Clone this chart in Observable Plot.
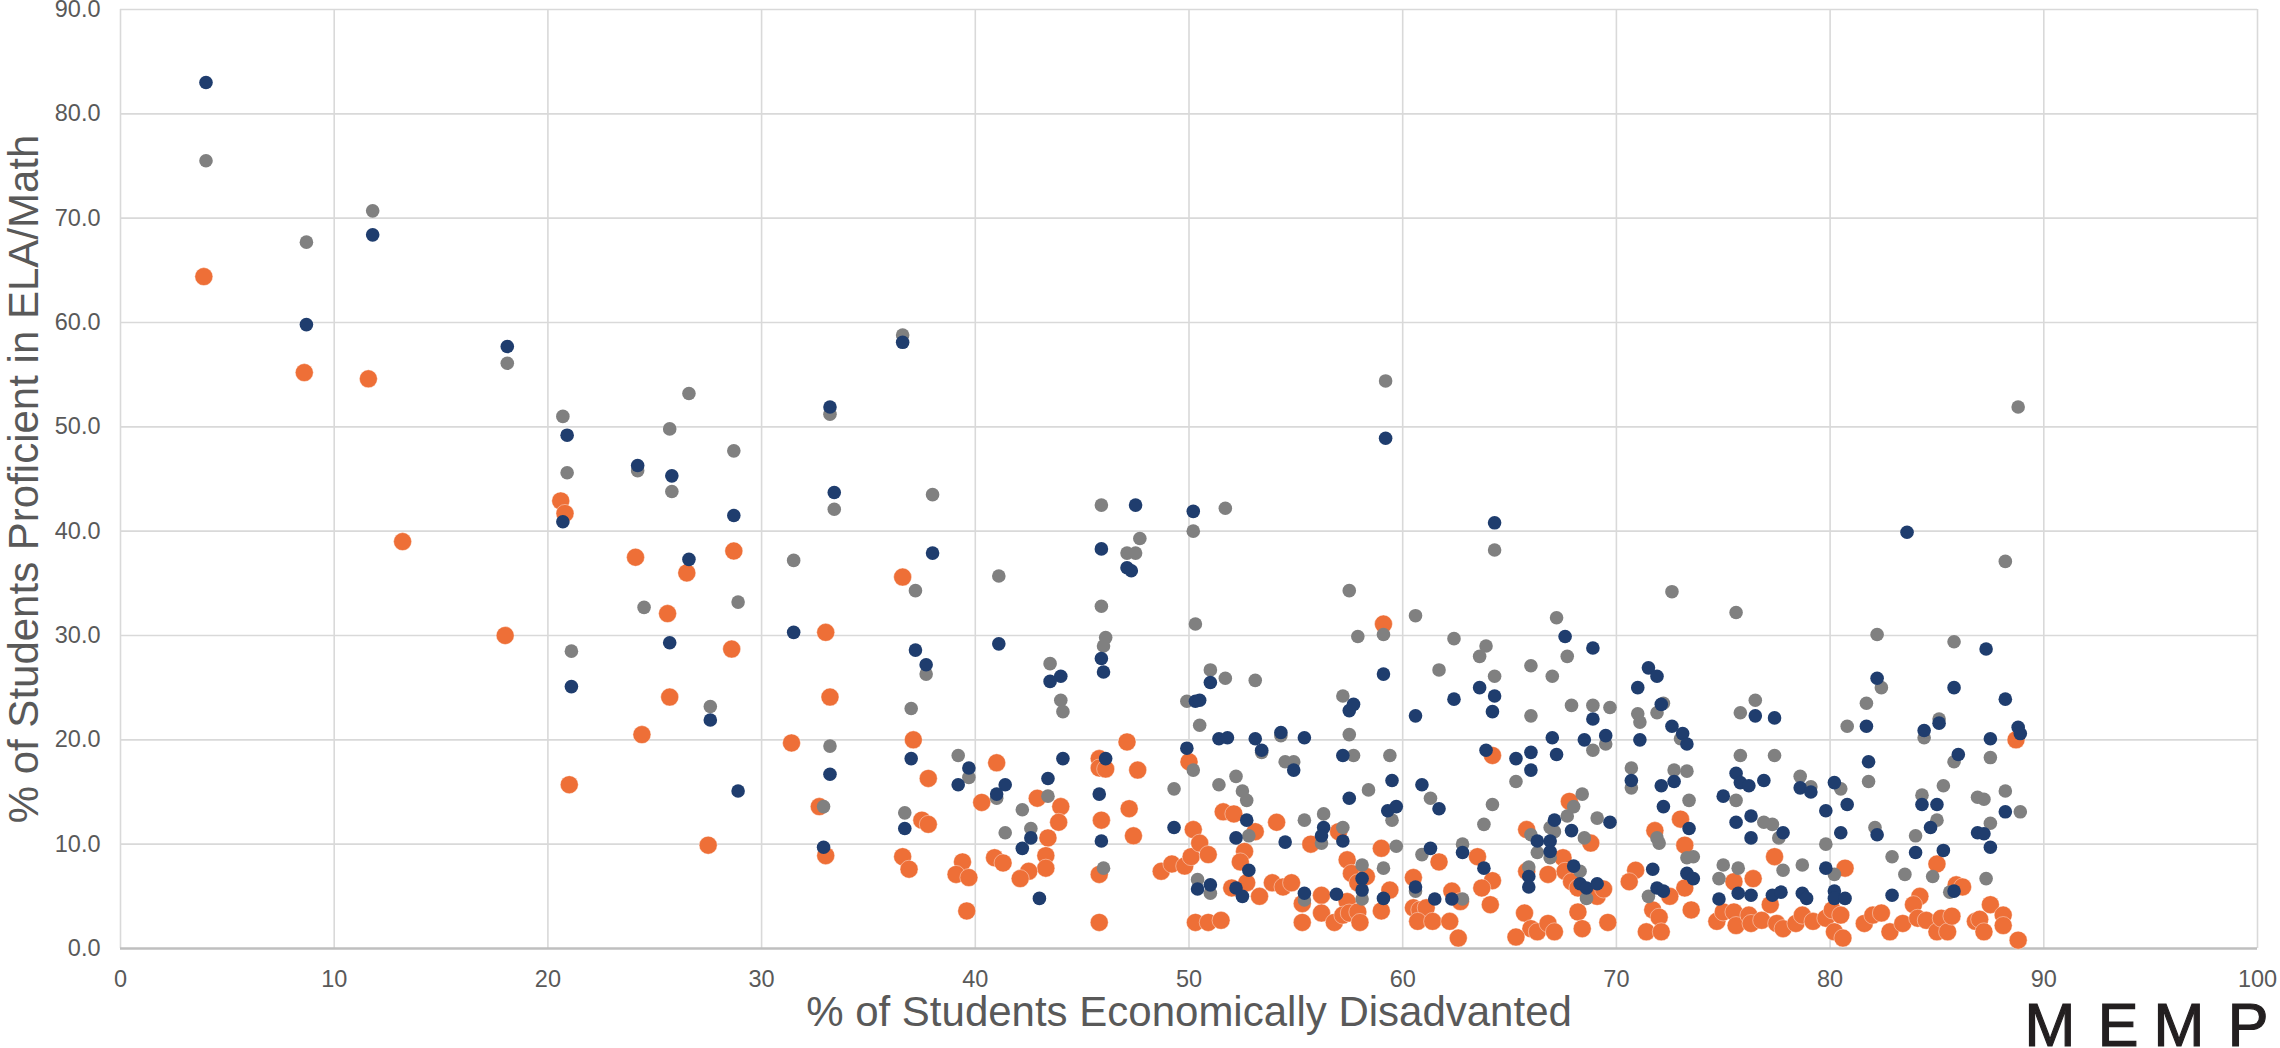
<!DOCTYPE html>
<html>
<head>
<meta charset="utf-8">
<script src="https://cdn.jsdelivr.net/npm/d3@7"></script>
<script src="https://cdn.jsdelivr.net/npm/@observablehq/plot@0.6"></script>
<style>
  html, body { margin: 0; padding: 0; background: #ffffff; }
  #wrap { position: relative; width: 2280px; height: 1048px; overflow: hidden; background: #fff; }
  .logo-letter { position: absolute; top: 1003px; width: 80px; text-align: center;
    font-family: "Liberation Sans", Arial, sans-serif; font-size: 61px; line-height: 44px; height: 44px;
    color: #231f20; -webkit-text-stroke: 1.2px #231f20; }
</style>
</head>
<body>
<div id="wrap"></div>
<script>
// ---- data (x = % economically disadvantaged, y = % proficient) ----
const xTicks = [0, 10, 20, 30, 40, 50, 60, 70, 80, 90, 100];
const yTicks = [0, 10, 20, 30, 40, 50, 60, 70, 80, 90];
const xTitle = "% of Students Economically Disadvanted";
const yTitle = "% of Students Proficient in ELA/Math";

const seriesOrange = [
[3.9,64.4],[8.6,55.2],[11.6,54.6],[13.2,39.0],[18.0,30.0],[20.6,42.9],[20.8,41.7],[24.1,37.5],[26.5,36.0],[25.6,32.1],[28.7,38.1],[28.6,28.7],[33.0,30.3],[25.7,24.1],[33.2,24.1],[24.4,20.5],[31.4,19.7],[37.1,20.0],[37.8,16.3],[21.0,15.7],[32.7,13.6],[37.5,12.3],[37.8,11.9],[27.5,9.9],[33.0,8.9],[36.6,8.8],[36.9,7.6],[39.4,8.3],[39.1,7.1],[39.7,6.8],[39.6,3.6],[36.6,35.6],
[41.0,17.8],[40.3,14.0],[42.9,14.4],[44.0,13.6],[43.9,12.1],[43.4,10.6],[43.3,8.9],[43.3,7.7],[42.5,7.4],[42.1,6.7],[40.9,8.7],[41.3,8.2],[45.8,18.2],[45.8,17.3],[46.1,17.2],[47.1,19.8],[47.6,17.1],[45.9,12.3],[47.2,13.4],[47.4,10.8],[50.0,17.9],[45.8,7.1],[45.8,2.5],[50.2,11.4],[48.7,7.4],[49.2,8.1],[49.8,7.9],[50.1,8.8],[50.3,2.5],
[51.6,13.1],[52.1,12.9],[53.1,11.2],[50.5,10.1],[50.9,9.0],[50.9,2.5],[51.5,2.7],[52.6,9.3],[52.4,8.3],[52.7,6.3],[52.0,5.8],[53.3,5.0],[53.9,6.3],[54.4,5.9],[54.8,6.3],[55.3,4.3],[55.3,2.5],[54.1,12.1],[55.7,10.0],[57.0,11.2],[56.2,5.1],[56.2,3.4],[57.4,4.5],[56.8,2.5],[57.2,3.2],[57.5,3.4],[57.9,3.5],[58.0,2.5],[57.4,8.5],[57.6,7.2],[57.9,6.3],[58.3,6.9],[59.0,9.6],[59.4,5.6],[59.0,3.6],[61.7,8.3],[60.5,6.8],[62.3,5.5],[60.5,3.9],[60.8,3.7],[61.1,3.9],[60.7,2.6],[61.4,2.6],[62.2,2.6],[62.6,1.0],[59.1,31.1],
[64.2,18.5],[65.8,11.4],[67.8,14.1],[68.8,10.1],[63.5,8.8],[64.2,6.5],[63.7,5.8],[64.1,4.2],[62.7,4.5],[65.8,7.4],[66.8,7.1],[67.5,8.7],[67.6,7.4],[67.9,6.4],[68.2,5.8],[69.1,5.0],[69.4,5.7],[65.7,3.4],[66.0,1.9],[65.3,1.1],[66.3,1.6],[66.8,2.4],[67.1,1.6],[68.2,3.5],[68.4,1.9],[69.6,2.5],
[71.8,11.3],[73.0,12.4],[73.2,9.9],[70.9,7.5],[70.6,6.4],[73.2,5.8],[72.5,5.0],[71.7,3.7],[72.0,3.0],[71.4,1.6],[72.1,1.6],[73.5,3.7],
[77.4,8.8],[75.5,6.4],[76.4,6.7],[80.7,7.7],[77.2,4.2],[74.7,2.6],[75.0,3.5],[75.5,3.5],[75.6,2.2],[76.2,3.2],[76.3,2.4],[76.8,2.7],[77.5,2.4],[77.8,1.9],[78.4,2.4],[78.7,3.2],[79.2,2.6],[79.8,2.9],[80.1,3.7],[80.2,1.6],[80.5,3.2],[80.6,1.0],
[85.0,8.1],[85.9,6.1],[84.2,5.0],[83.9,4.2],[81.6,2.4],[82.0,3.2],[82.4,3.4],[82.8,1.6],[83.4,2.4],[84.1,2.9],[84.5,2.7],[85.0,1.6],[85.2,2.9],[85.5,1.6],[85.7,3.1],[86.2,5.9],[86.8,2.6],[88.7,20.0],[87.5,4.2],[88.1,3.2],[87.0,2.8],[88.1,2.2],[87.2,1.6],[88.8,0.8]
];

const seriesGray = [
[4.0,75.5],[8.7,67.7],[11.8,70.7],[18.1,56.1],[20.7,51.0],[20.9,45.6],[21.1,28.5],[24.2,45.8],[25.7,49.8],[25.8,43.8],[26.6,53.2],[24.5,32.7],[28.7,47.7],[28.9,33.2],[37.7,26.3],[27.6,23.2],[37.0,23.0],[33.2,19.4],[39.2,18.5],[39.7,16.4],[32.9,13.6],[36.7,13.0],[36.6,58.8],[33.2,51.2],[33.4,42.1],[38.0,43.5],[31.5,37.2],[37.2,34.3],[41.1,35.7],[45.9,42.5],[50.2,40.0],[47.7,39.3],[47.1,37.9],[47.5,37.9],[45.9,32.8],[50.3,31.1],[46.1,29.8],[46.0,29.0],[43.5,27.3],[44.0,23.8],[44.1,22.7],[49.9,23.7],[50.5,21.4],
[41.0,14.4],[41.4,11.1],[42.2,13.3],[43.4,14.6],[42.6,11.5],[49.3,15.3],[50.2,17.1],[46.0,7.7],[50.4,6.6],
[53.4,18.8],[54.3,20.4],[54.5,17.9],[54.9,17.9],[52.2,16.5],[51.4,15.7],[52.5,15.1],[52.7,14.2],[52.8,10.8],[51.0,5.3],[55.4,4.65],[55.4,12.3],[56.3,12.9],[56.2,10.1],[57.2,11.6],[58.1,8.0],[58.1,4.75],[59.1,7.7],[59.7,9.8],[57.7,18.5],[57.5,20.5],[58.4,15.2],[59.4,18.5],[59.5,12.3],[61.3,14.4],[60.9,9.0],[60.6,5.5],[62.8,10.0],[62.8,4.75],
[66.0,22.3],[67.9,23.3],[68.9,23.3],[69.7,23.1],[68.9,19.0],[69.5,19.6],[65.3,16.0],[64.2,13.8],[63.8,11.9],[68.4,14.8],[68.0,13.6],[67.7,12.7],[66.9,11.6],[67.1,11.2],[66.0,10.9],[66.3,9.2],[66.9,8.7],[69.1,12.5],[68.5,10.6],[65.9,7.8],[68.3,7.4],[68.6,4.8],
[71.0,22.5],[71.1,21.7],[71.9,22.6],[73.0,20.1],[70.7,17.3],[70.7,15.4],[72.7,17.1],[73.3,17.0],[73.4,14.2],[71.9,10.6],[72.0,10.1],[73.3,8.7],[73.6,8.8],[71.5,5.0],[72.2,23.5],
[75.8,22.6],[76.5,23.8],[75.8,18.5],[77.4,18.5],[75.6,14.2],[76.9,12.1],[77.3,11.9],[77.6,10.6],[78.6,16.5],[79.1,15.5],[80.5,15.3],[79.8,10.0],[77.8,7.5],[75.0,8.0],[75.7,7.7],[74.8,6.7],[78.7,8.0],[80.2,7.1],
[80.8,21.3],[81.7,23.5],[81.8,16.0],[82.1,11.6],[82.9,8.8],[83.5,7.1],[84.3,14.7],[85.3,15.6],[85.0,12.3],[84.0,10.8],[84.8,6.9],[85.6,5.4],[84.4,20.2],[85.1,22.0],[85.8,17.9],[86.9,14.5],
[59.2,54.4],[51.7,42.2],[64.3,38.2],[57.5,34.3],[59.1,30.1],[57.9,29.9],[60.6,31.9],[62.4,29.7],[63.9,29.0],[63.6,28.0],[67.2,31.7],[67.7,28.0],[61.7,26.7],[64.3,26.1],[66.0,27.1],[67.0,26.1],[57.2,24.2],[51.0,26.7],[51.7,25.9],[53.1,25.7],
[72.6,34.2],[75.6,32.2],[82.2,30.1],[85.8,29.4],[82.4,25.0],
[88.8,51.9],[88.2,37.1],[87.5,18.3],[88.2,15.1],[87.2,14.3],[88.9,13.1],[87.5,12.0],[87.3,6.7]
];

const seriesNavy = [
[4.0,83.0],[8.7,59.8],[11.8,68.4],[18.1,57.7],[20.9,49.2],[20.7,40.9],[21.1,25.1],[24.2,46.3],[25.8,45.3],[26.6,37.3],[25.7,29.3],[28.7,41.5],[31.5,30.3],[37.2,28.6],[37.7,27.2],[27.6,21.9],[37.0,18.2],[33.2,16.7],[39.7,17.3],[39.2,15.7],[28.9,15.1],[36.7,11.5],[32.9,9.7],[36.6,58.1],[33.2,51.9],[33.4,43.7],[38.0,37.9],[41.1,29.2],[47.5,42.5],[50.2,41.9],[45.9,38.3],[47.1,36.5],[47.3,36.2],[45.9,27.8],[46.0,26.5],[44.0,26.1],[43.5,25.6],[50.3,23.7],[50.5,23.8],
[41.4,15.7],[41.0,14.8],[43.4,16.3],[44.1,18.2],[42.6,10.6],[42.2,9.6],[43.0,4.8],[46.1,18.2],[45.8,14.8],[45.9,10.3],[49.9,19.2],[49.3,11.6],[50.4,5.7],
[51.4,20.1],[51.8,20.2],[53.1,20.1],[53.4,19.0],[54.3,20.7],[55.4,20.2],[54.9,17.1],[52.7,12.3],[52.2,10.6],[51.0,6.1],[52.8,7.5],[52.2,5.8],[52.5,5.0],[55.4,5.3],[54.5,10.2],[56.3,11.6],[56.2,10.8],[57.2,10.3],[56.9,5.2],[58.1,6.7],[58.1,5.6],[59.1,4.8],[57.2,18.5],[57.5,22.8],[57.7,23.4],[57.5,14.4],[59.5,16.1],[59.3,13.2],[59.7,13.6],[60.6,22.3],[60.9,15.7],[61.7,13.4],[61.3,9.6],[60.6,5.9],[61.5,4.75],[62.3,4.75],
[62.4,23.9],[64.2,22.7],[64.3,24.2],[68.9,22.0],[67.0,20.2],[68.5,20.0],[69.5,20.4],[67.2,18.6],[65.3,18.2],[66.0,18.8],[66.0,17.1],[63.9,19.0],[67.1,12.3],[67.9,11.3],[66.3,10.3],[66.9,10.3],[66.9,9.3],[69.7,12.1],[62.8,9.2],[63.8,7.7],[65.9,6.9],[65.9,5.9],[68.0,7.9],[68.3,6.2],[68.6,5.8],[69.1,6.2],
[72.1,23.4],[72.6,21.3],[73.1,20.6],[73.3,19.6],[71.1,20.0],[70.7,16.1],[72.1,15.6],[72.7,16.0],[72.2,13.6],[73.4,11.5],[71.7,7.6],[73.3,7.2],[73.6,6.7],[71.9,5.8],[72.2,5.5],
[76.5,22.3],[77.4,22.1],[75.6,16.8],[75.8,15.9],[76.2,15.6],[76.9,16.1],[75.0,14.6],[76.3,12.7],[75.6,12.1],[77.8,11.1],[76.3,10.6],[78.6,15.4],[79.1,15.0],[80.2,15.9],[80.8,13.8],[79.8,13.2],[80.5,11.1],[79.8,7.7],[74.8,4.75],[75.7,5.3],[76.3,5.1],[77.3,5.1],[77.7,5.4],[78.7,5.3],[78.9,4.8],[80.2,5.5],[80.2,4.8],[80.7,4.8],
[81.7,21.3],[81.8,17.9],[82.2,10.9],[82.9,5.1],[84.3,13.8],[85.0,13.8],[84.7,11.6],[84.0,9.2],[85.3,9.4],[85.8,5.5],[84.4,20.9],[85.1,21.6],[86.0,18.6],[86.9,11.1],
[64.3,40.8],[63.6,25.0],[59.2,48.9],[59.1,26.3],[51.0,25.5],[67.6,29.9],[68.9,28.8],[71.5,26.9],[71.9,26.1],[71.0,25.0],[82.2,25.9],[85.8,25.0],[83.6,39.9],
[87.3,28.7],[88.2,23.9],[88.8,21.2],[88.9,20.6],[87.5,20.1],[88.2,13.1],[87.2,11.0],[87.5,9.7]
];

const logoLetters = ["M", "E", "M", "P"];

// ---- chart ----
const gridColor = "#d9d9d9";
const textColor = "#595959";

const chart = Plot.plot({
  width: 2280,
  height: 1048,
  marginLeft: 120,
  marginRight: 23,
  marginTop: 9,
  marginBottom: 100,
  style: { fontFamily: "'Liberation Sans', Arial, sans-serif", background: "#ffffff", color: textColor, overflow: "visible" },
  x: { domain: [0, 100] },
  y: { domain: [0, 90] },
  marks: [
    Plot.ruleX(xTicks, { stroke: gridColor, strokeWidth: 1.6 }),
    Plot.ruleY(yTicks.filter(d => d > 0), { stroke: gridColor, strokeWidth: 1.6 }),
    Plot.ruleY([0], { stroke: "#bfbfbf", strokeWidth: 2.6 }),
    Plot.axisX({ ticks: xTicks, tickSize: 0, tickPadding: 22, tickFormat: d => String(d), label: null, fontSize: 23.5, fill: textColor }),
    Plot.axisY({ ticks: yTicks, tickSize: 0, tickPadding: 20, tickFormat: d3.format(".1f"), label: null, fontSize: 23.5, fill: textColor }),
    Plot.text([xTitle], { text: d => d, frameAnchor: "bottom", textAnchor: "middle", dy: 77, fontSize: 42, fill: textColor }),
    Plot.text([yTitle], { text: d => d, frameAnchor: "left", textAnchor: "middle", rotate: -90, dx: -96, fontSize: 42, fill: textColor }),
    Plot.dot(seriesOrange, { x: d => d[0], y: d => d[1], r: 9, fill: "#ee6f37", stroke: "#ffffff", strokeWidth: 0.8, strokeOpacity: 0.5 }),
    Plot.dot(seriesGray, { x: d => d[0], y: d => d[1], r: 6.8, fill: "#808080" }),
    Plot.dot(seriesNavy, { x: d => d[0], y: d => d[1], r: 6.8, fill: "#1f3d6e" })
  ]
});

const wrap = document.getElementById("wrap");
wrap.appendChild(chart);
// logo letters, centred under the right end of the x axis
const logoCentres = [2050, 2118, 2179, 2248];
logoLetters.forEach((ch, i) => {
  const s = document.createElement("div");
  s.className = "logo-letter";
  s.style.left = (logoCentres[i] - 40) + "px";
  s.textContent = ch;
  wrap.appendChild(s);
});
</script>
</body>
</html>
